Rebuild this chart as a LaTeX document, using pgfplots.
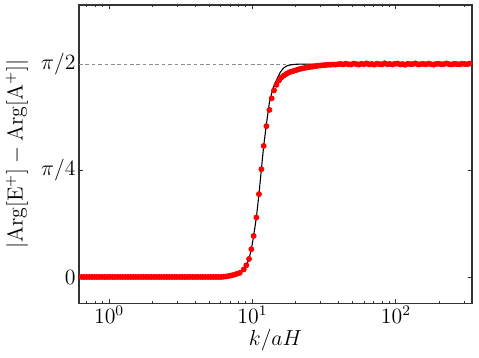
\documentclass[border=0pt]{standalone}
\usepackage{pgfplots}
\usepackage{pgfplotstable}
\pgfplotsset{compat=1.18}

% numerical phase difference, x column is log10(k/aH)
\pgfplotstableread{
lk phase
-0.210 0
-0.192 0
-0.174 0
-0.156 0
-0.138 0
-0.120 0
-0.102 0
-0.084 0
-0.066 0
-0.048 0
-0.030 0
-0.012 0
0.006 0
0.024 0
0.042 0
0.060 0
0.078 0
0.096 0
0.114 0
0.132 0
0.150 0
0.168 0
0.186 0
0.204 0
0.222 0
0.240 0
0.258 0
0.276 0
0.294 0
0.312 0
0.330 0
0.348 0
0.366 0
0.384 0
0.402 0
0.420 0
0.438 0
0.456 0
0.474 0
0.492 0
0.510 0
0.528 0
0.546 0
0.564 0
0.582 0
0.600 0
0.618 0
0.636 0
0.654 0
0.672 0
0.690 0
0.708 0
0.726 0
0.744 0
0.762 0
0.780 0
0.798 0.002
0.816 0.004
0.834 0.007
0.852 0.011
0.870 0.016
0.888 0.022
0.911 0.030
0.939 0.055
0.957 0.086
0.976 0.133
0.992 0.205
1.008 0.303
1.027 0.439
1.045 0.611
1.062 0.795
1.078 0.967
1.097 1.113
1.118 1.233
1.134 1.318
1.150 1.377
1.167 1.418
1.185 1.450
1.201 1.473
1.219 1.487
1.237 1.499
1.255 1.510
1.273 1.516
1.291 1.522
1.309 1.528
1.327 1.534
1.345 1.538
1.363 1.542
1.381 1.546
1.399 1.549
1.417 1.552
1.435 1.555
1.453 1.558
1.471 1.560
1.489 1.562
1.507 1.564
1.525 1.566
1.543 1.566
1.561 1.568
1.579 1.567
1.597 1.570
1.615 1.572
1.633 1.569
1.651 1.574
1.669 1.570
1.687 1.568
1.705 1.575
1.723 1.571
1.741 1.567
1.759 1.573
1.777 1.570
1.795 1.576
1.813 1.569
1.831 1.572
1.849 1.567
1.867 1.574
1.885 1.571
1.903 1.569
1.921 1.577
1.939 1.570
1.957 1.572
1.975 1.568
1.993 1.573
2.011 1.575
2.029 1.569
2.047 1.571
2.065 1.566
2.083 1.574
2.101 1.570
2.119 1.572
2.137 1.576
2.155 1.568
2.173 1.571
2.191 1.573
2.209 1.569
2.227 1.575
2.245 1.570
2.263 1.567
2.281 1.572
2.299 1.574
2.317 1.569
2.335 1.571
2.353 1.576
2.371 1.570
2.389 1.568
2.407 1.573
2.425 1.571
2.443 1.569
2.461 1.574
2.479 1.572
2.497 1.570
2.515 1.575
2.533 1.571
}\numdata

% analytic curve
\pgfplotstableread{
lk phase
-0.210 0
0.700 0
0.780 0.002
0.840 0.010
0.880 0.020
0.911 0.030
0.939 0.055
0.957 0.086
0.976 0.133
0.992 0.205
1.008 0.303
1.027 0.439
1.045 0.611
1.062 0.795
1.078 0.967
1.099 1.143
1.118 1.290
1.143 1.394
1.167 1.453
1.190 1.504
1.213 1.539
1.236 1.556
1.259 1.564
1.294 1.569
1.329 1.5708
2.530 1.5708
}\anadata

\begin{document}
\begin{tikzpicture}[font=\fontsize{12}{14}\selectfont]
\begin{axis}[
    scale only axis,
    width=216pt, height=164pt,
    xmin=-0.209, xmax=2.530,
    ymin=-0.194, ymax=2.007,
    axis line style={draw=black!80, line width=0.7pt},
    tick align=inside,
    major tick length=2.2pt,
    minor tick length=1.2pt,
    every tick/.style={black!80, line width=0.5pt},
    xtick={0,1,2},
    xticklabels={$10^{0}$,$10^{1}$,$10^{2}$},
    minor xtick={-0.155,-0.097,-0.046,0.301,0.477,0.602,0.699,0.778,0.845,0.903,0.954,1.301,1.477,1.602,1.699,1.778,1.845,1.903,1.954,2.301,2.477},
    ytick={0,0.7854,1.5708},
    yticklabels={$0$,$\pi/4$,$\pi/2$},
    yticklabel style={inner xsep=0pt, xshift=-1.8pt},
    xticklabel style={inner ysep=0pt, yshift=-1.2pt},
    xlabel={$k/aH$},
    ylabel={$|\mathrm{Arg}[\mathrm{E}^{+}]-\mathrm{Arg}[\mathrm{A}^{+}]|$},
    xlabel style={at={(axis description cs:0.5,0)}, anchor=center, inner sep=0pt, yshift=-20.3pt},
    ylabel style={at={(axis description cs:-0.158,0.5)}, anchor=center, inner sep=0pt, font=\fontsize{11.5}{13}\selectfont},
]
\addplot[gray!90, line width=0.6pt, dash pattern=on 2pt off 1.5pt] coordinates {(-0.209,1.5708) (2.530,1.5708)};
\addplot[only marks, mark=*, mark size=1.4pt, color=red] table[x=lk, y=phase] {\numdata};
\addplot[black, line width=0.6pt] table[x=lk, y=phase] {\anadata};
\coordinate (sw) at (rel axis cs:0,0);
\coordinate (ne) at (rel axis cs:1,1);
\end{axis}
\path ([shift={(-43.5pt,-30pt)}]sw) rectangle ([shift={(3.9pt,2.75pt)}]ne);
\end{tikzpicture}
\end{document}
